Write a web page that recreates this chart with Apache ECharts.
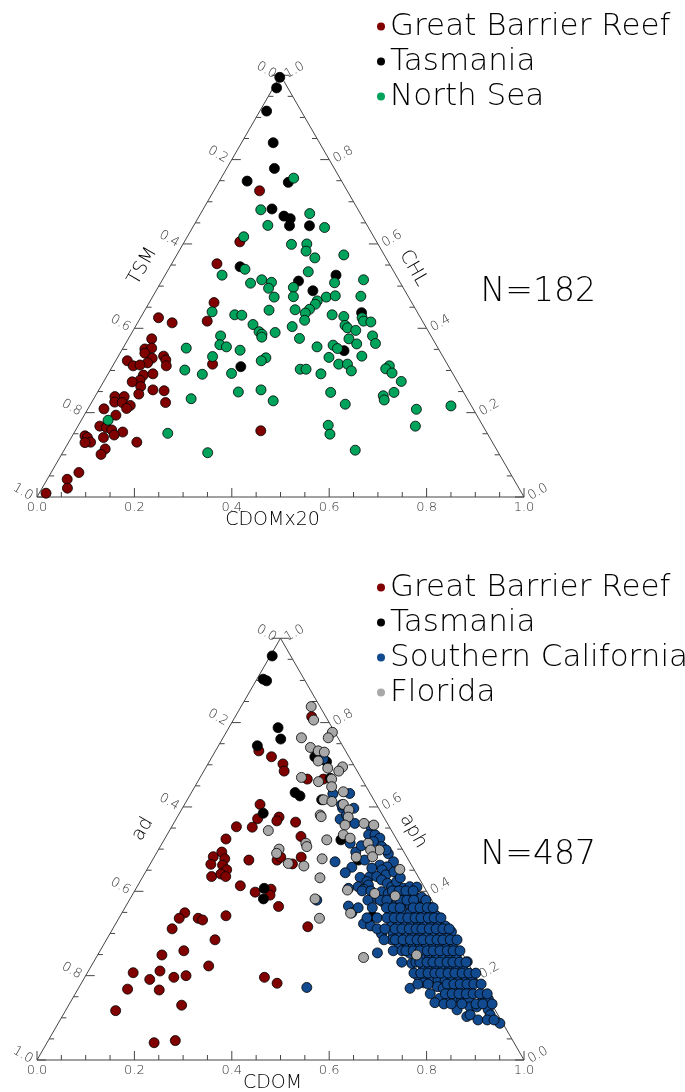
<!DOCTYPE html>
<html>
<head>
<meta charset="utf-8">
<title>Ternary plots</title>
<script src="https://cdn.jsdelivr.net/npm/echarts@6/dist/echarts.min.js"></script>
<style>
  html, body { margin: 0; padding: 0; background: #fff; }
  #chart { width: 685px; height: 1092px; }
</style>
</head>
<body>
<div id="chart"></div>
<script>
// every point is [CDOM, CHL]; the third fraction (TSM / ad) is 1 - CDOM - CHL

// upper plot (CDOMx20, CHL, TSM)
var topGBR = [
  [0.094,0.726],[0.114,0.605],[0.093,0.553],[0.133,0.461],[0.037,0.425],[0.071,0.413],[0.141,0.417],[0.048,0.375],
  [0.046,0.351],[0.059,0.353],[0.051,0.341],[0.072,0.329],[0.068,0.318],[0.093,0.334],[0.102,0.325],[0.110,0.311],
  [0.024,0.323],[0.042,0.311],[0.055,0.313],[0.203,0.315],[0.074,0.289],[0.092,0.292],[0.073,0.277],[0.059,0.273],
  [0.082,0.262],[0.111,0.254],[0.135,0.252],[0.087,0.244],[0.041,0.238],[0.060,0.238],[0.047,0.225],[0.063,0.224],
  [0.152,0.224],[0.083,0.217],[0.079,0.210],[0.033,0.209],[0.065,0.194],[0.045,0.168],[0.060,0.165],[0.074,0.159],
  [0.099,0.154],[0.085,0.147],[0.066,0.141],[0.026,0.145],[0.033,0.141],[0.045,0.130],[0.034,0.129],[0.140,0.130],
  [0.083,0.114],[0.081,0.101],[0.057,0.058],[0.041,0.042],[0.052,0.021],[0.014,0.009],[0.381,0.157]
];
var topTas = [
  [0.001,0.995],[0.007,0.970],[0.014,0.915],[0.065,0.840],[0.098,0.779],[0.057,0.749],[0.143,0.746],[0.141,0.683],
  [0.174,0.666],[0.190,0.660],[0.197,0.643],[0.238,0.643],[0.144,0.546],[0.351,0.526],[0.281,0.512],[0.322,0.489],
  [0.448,0.437],[0.457,0.347],[0.264,0.309]
];
var topNorthSea = [
  [0.149,0.756],[0.119,0.681],[0.224,0.672],[0.152,0.644],[0.271,0.639],[0.116,0.617],[0.223,0.599],[0.254,0.600],
  [0.261,0.583],[0.287,0.567],[0.343,0.574],[0.157,0.540],[0.290,0.534],[0.357,0.508],[0.413,0.515],[0.204,0.515],
  [0.227,0.509],[0.228,0.495],[0.185,0.507],[0.278,0.497],[0.250,0.474],[0.289,0.475],[0.357,0.474],[0.374,0.477],
  [0.427,0.476],[0.343,0.465],[0.343,0.457],[0.337,0.445],[0.333,0.436],[0.340,0.419],[0.308,0.444],[0.255,0.443],
  [0.190,0.432],[0.205,0.431],[0.390,0.432],[0.455,0.425],[0.462,0.417],[0.478,0.415],[0.416,0.428],[0.239,0.409],
  [0.322,0.404],[0.429,0.407],[0.437,0.401],[0.457,0.395],[0.260,0.392],[0.269,0.386],[0.272,0.379],[0.294,0.390],
  [0.498,0.382],[0.351,0.376],[0.453,0.375],[0.513,0.364],[0.475,0.363],[0.397,0.356],[0.428,0.360],[0.441,0.352],
  [0.243,0.348],[0.500,0.334],[0.434,0.331],[0.305,0.330],[0.299,0.323],[0.462,0.315],[0.480,0.315],[0.496,0.299],
  [0.568,0.311],[0.564,0.304],[0.582,0.294],[0.389,0.303],[0.401,0.303],[0.253,0.293],[0.437,0.292],[0.611,0.274],
  [0.289,0.249],[0.333,0.254],[0.479,0.248],[0.609,0.248],[0.591,0.240],[0.598,0.230],[0.371,0.228],[0.523,0.220],
  [0.742,0.216],[0.675,0.208],[0.693,0.168],[0.513,0.170],[0.527,0.149],[0.598,0.111],[0.117,0.526],[0.140,0.439],
  [0.186,0.382],[0.195,0.361],[0.211,0.356],[0.130,0.353],[0.194,0.333],[0.153,0.301],[0.194,0.291],[0.200,0.233],
  [0.055,0.182],[0.193,0.151],[0.298,0.105]
];

// lower plot (CDOM, aph, ad)
var botGBR = [
  [0.157,0.814],[0.089,0.733],[0.122,0.719],[0.154,0.702],[0.165,0.685],[0.222,0.666],[0.255,0.666],[0.155,0.606],
  [0.167,0.572],[0.209,0.576],[0.209,0.567],[0.133,0.553],[0.166,0.552],[0.249,0.564],[0.126,0.524],[0.277,0.530],
  [0.133,0.493],[0.121,0.482],[0.147,0.477],[0.125,0.464],[0.150,0.462],[0.164,0.451],[0.141,0.435],[0.157,0.441],
  [0.170,0.435],[0.198,0.474],[0.256,0.474],[0.260,0.481],[0.302,0.481],[0.292,0.465],[0.211,0.413],[0.249,0.398],
  [0.278,0.405],[0.283,0.391],[0.314,0.364],[0.129,0.349],[0.124,0.336],[0.163,0.336],[0.174,0.332],[0.217,0.342],
  [0.122,0.311],[0.223,0.285],[0.132,0.249],[0.172,0.259],[0.241,0.223],[0.094,0.207],[0.147,0.211],[0.136,0.191],
  [0.183,0.196],[0.206,0.200],[0.369,0.196],[0.402,0.182],[0.102,0.168],[0.168,0.166],[0.103,0.117],[0.232,0.130],
  [0.220,0.041],[0.261,0.046],[0.398,0.316]
];
var botTas = [
  [0.004,0.958],[0.013,0.903],[0.022,0.899],[0.101,0.788],[0.120,0.761],[0.080,0.745],[0.211,0.719],[0.241,0.707],
  [0.213,0.634],[0.227,0.626],[0.268,0.668],[0.276,0.617],[0.172,0.585],[0.263,0.407],[0.274,0.382],[0.363,0.522],
  [0.423,0.474],[0.518,0.341]
];
var botSoCal = [
  [0.292,0.631],[0.326,0.632],[0.329,0.597],[0.337,0.571],[0.345,0.581],[0.372,0.561],[0.409,0.553],[0.414,0.534],
  [0.427,0.534],[0.441,0.526],[0.432,0.518],[0.455,0.506],[0.386,0.514],[0.477,0.489],[0.497,0.470],[0.377,0.470],
  [0.418,0.457],[0.473,0.462],[0.490,0.458],[0.483,0.451],[0.497,0.439],[0.447,0.433],[0.466,0.435],[0.466,0.423],
  [0.480,0.435],[0.454,0.411],[0.473,0.415],[0.468,0.405],[0.494,0.427],[0.510,0.419],[0.523,0.411],[0.527,0.423],
  [0.549,0.407],[0.560,0.411],[0.575,0.410],[0.508,0.399],[0.524,0.395],[0.540,0.391],[0.553,0.391],[0.568,0.389],
  [0.583,0.387],[0.597,0.386],[0.436,0.407],[0.506,0.383],[0.523,0.375],[0.539,0.372],[0.553,0.372],[0.566,0.372],
  [0.582,0.368],[0.597,0.365],[0.611,0.365],[0.626,0.362],[0.457,0.365],[0.472,0.349],[0.549,0.352],[0.563,0.352],
  [0.578,0.349],[0.592,0.348],[0.606,0.348],[0.621,0.344],[0.635,0.344],[0.650,0.341],[0.564,0.328],[0.579,0.326],
  [0.592,0.328],[0.607,0.324],[0.620,0.326],[0.635,0.323],[0.649,0.323],[0.664,0.320],[0.679,0.318],[0.509,0.323],
  [0.526,0.318],[0.699,0.304],[0.581,0.300],[0.596,0.299],[0.611,0.296],[0.624,0.296],[0.639,0.294],[0.654,0.292],
  [0.668,0.292],[0.682,0.291],[0.697,0.289],[0.558,0.299],[0.586,0.285],[0.604,0.277],[0.621,0.277],[0.635,0.275],
  [0.650,0.273],[0.665,0.270],[0.679,0.269],[0.693,0.269],[0.709,0.265],[0.722,0.265],[0.639,0.253],[0.654,0.251],
  [0.669,0.249],[0.683,0.247],[0.697,0.247],[0.712,0.245],[0.727,0.241],[0.741,0.241],[0.572,0.254],[0.655,0.229],
  [0.683,0.221],[0.696,0.221],[0.710,0.221],[0.724,0.220],[0.739,0.217],[0.754,0.215],[0.769,0.213],[0.767,0.233],
  [0.683,0.199],[0.698,0.198],[0.714,0.194],[0.728,0.191],[0.743,0.190],[0.757,0.190],[0.772,0.186],[0.786,0.186],
  [0.797,0.191],[0.702,0.183],[0.735,0.174],[0.681,0.170],[0.749,0.170],[0.764,0.168],[0.779,0.166],[0.792,0.166],
  [0.806,0.166],[0.754,0.146],[0.771,0.146],[0.785,0.146],[0.801,0.142],[0.814,0.144],[0.749,0.136],[0.803,0.119],
  [0.826,0.126],[0.840,0.126],[0.845,0.142],[0.855,0.144],[0.831,0.103],[0.836,0.107],[0.867,0.119],[0.877,0.107],
  [0.907,0.087],[0.468,0.172],[0.231,0.714],[0.323,0.605],[0.352,0.597],[0.385,0.379],
  [0.467,0.401],[0.485,0.401],[0.529,0.401],[0.543,0.401],[0.557,0.401],[0.572,0.401],
  [0.490,0.379],[0.515,0.379],[0.529,0.379],[0.556,0.379],[0.570,0.379],[0.584,0.379],[0.609,0.379],
  [0.479,0.361],[0.508,0.361],[0.537,0.361],[0.551,0.361],[0.565,0.361],[0.592,0.361],[0.606,0.361],[0.621,0.361],[0.633,0.361],
  [0.509,0.337],[0.530,0.337],[0.550,0.337],[0.565,0.337],[0.579,0.337],[0.593,0.337],[0.608,0.337],[0.620,0.337],[0.635,0.337],[0.647,0.337],[0.661,0.337],
  [0.543,0.311],[0.559,0.311],[0.580,0.311],[0.594,0.311],[0.609,0.311],[0.623,0.311],[0.635,0.311],[0.650,0.311],[0.664,0.311],[0.678,0.311],[0.691,0.311],
  [0.570,0.285],[0.593,0.285],[0.609,0.285],[0.624,0.285],[0.638,0.285],[0.650,0.285],[0.665,0.285],[0.679,0.285],[0.691,0.285],[0.706,0.285],[0.720,0.285],
  [0.602,0.259],[0.620,0.259],[0.628,0.259],[0.643,0.259],[0.657,0.259],[0.672,0.259],[0.684,0.259],[0.698,0.259],[0.713,0.259],[0.725,0.259],[0.739,0.259],
  [0.633,0.232],[0.662,0.232],[0.670,0.232],[0.685,0.232],[0.697,0.232],[0.711,0.232],[0.726,0.232],[0.738,0.232],[0.752,0.232],[0.765,0.232],
  [0.671,0.206],[0.685,0.206],[0.700,0.206],[0.714,0.206],[0.726,0.206],[0.741,0.206],[0.755,0.206],[0.770,0.206],[0.784,0.206],[0.798,0.206],
  [0.692,0.180],[0.713,0.180],[0.752,0.180],[0.766,0.180],[0.779,0.180],[0.793,0.180],[0.807,0.180],[0.822,0.180],
  [0.729,0.157],[0.760,0.157],[0.774,0.157],[0.788,0.157],[0.803,0.157],[0.817,0.157],[0.831,0.157],[0.846,0.157],
  [0.769,0.133],[0.784,0.133],[0.806,0.133],[0.835,0.133],[0.849,0.133],[0.868,0.133],
  [0.858,0.095],[0.877,0.095],[0.891,0.095],
  [0.408,0.493],[0.436,0.474],[0.460,0.455],[0.510,0.446],[0.530,0.432],[0.411,0.444],[0.412,0.508],[0.468,0.498]
];
var botFlorida = [
  [0.144,0.838],[0.165,0.806],[0.218,0.777],[0.216,0.764],[0.161,0.764],[0.191,0.741],[0.211,0.733],[0.225,0.730],
  [0.223,0.709],[0.251,0.692],[0.280,0.695],[0.277,0.685],[0.208,0.670],[0.248,0.660],[0.272,0.666],[0.281,0.648],
  [0.280,0.617],[0.299,0.613],[0.311,0.636],[0.326,0.606],[0.344,0.593],[0.291,0.581],[0.203,0.544],[0.295,0.577],
  [0.334,0.522],[0.295,0.514],[0.301,0.506],[0.247,0.500],[0.247,0.490],[0.283,0.466],[0.318,0.460],[0.347,0.477],
  [0.365,0.432],[0.380,0.382],[0.412,0.336],[0.351,0.576],[0.354,0.557],[0.391,0.561],[0.413,0.557],[0.362,0.534],
  [0.380,0.526],[0.423,0.514],[0.454,0.498],[0.436,0.498],[0.448,0.482],[0.415,0.481],[0.519,0.452],[0.436,0.403],
  [0.496,0.395],[0.541,0.389],[0.470,0.348],[0.655,0.249],[0.549,0.243]
];

var tickLabels = ['0.0', '0.2', '0.4', '0.6', '0.8', '1.0'];
var topTitles = { left: 'TSM', right: 'CHL', bottom: 'CDOMx20', n: 'N=182' };
var botTitles = { left: 'ad', right: 'aph', bottom: 'CDOM', n: 'N=487' };

var S = Math.sqrt(3) / 2;
var lineColor = '#444';
var font = '"DejaVu Sans", sans-serif';

// ternary [cdom, chl] -> plane x, y
function toXY(p) {
    return [p[0] + p[1] / 2, p[1] * S];
}

function txt(x, y, s, size, rot, color) {
    return {
        type: 'text', x: x, y: y, rotation: rot || 0,
        style: {
            text: s, fill: color, font: '200 ' + size + 'px ' + font,
            align: 'center', verticalAlign: 'middle',
            textAlign: 'center', textVerticalAlign: 'middle'
        }
    };
}

function seg(x1, y1, x2, y2) {
    return { type: 'line', shape: { x1: x1, y1: y1, x2: x2, y2: y2 }, style: { stroke: lineColor, lineWidth: 1 } };
}

// triangle, ticks, tick labels and axis names
function frame(titles) {
    return function (params, api) {
        var P = function (c, h) { return api.coord([c + h / 2, h * S]); };
        var A = P(0, 0), B = P(1, 0), C = P(0, 1);
        var kids = [{
            type: 'polyline', shape: { points: [A, B, C, A] },
            style: { stroke: lineColor, lineWidth: 1, fill: null }
        }];
        for (var i = 0; i <= 20; i++) {
            var t = i / 20, major = i % 4 === 0, len = major ? 9 : 5;
            var b = P(t, 0), l = P(0, 1 - t), r = P(1 - t, t);
            kids.push(seg(b[0], b[1], b[0], b[1] - len));
            kids.push(seg(l[0], l[1], l[0] + len, l[1]));
            kids.push(seg(r[0], r[1], r[0] - len, r[1]));
            if (major) {
                var s = tickLabels[i / 4];
                kids.push(txt(b[0], b[1] + 11, s, 13, 0, '#333'));
                kids.push(txt(l[0] - 14, l[1] - 5, s, 13, -Math.PI / 6, '#333'));
                kids.push(txt(r[0] + 14, r[1] - 5, s, 13, Math.PI / 6, '#333'));
            }
        }
        var ml = P(0, 0.5), mr = P(0.5, 0.5), mb = P(0.5, 0);
        kids.push(txt(ml[0] - 16, ml[1] - 20, titles.left, 19, Math.PI / 3, '#000'));
        kids.push(txt(mr[0] + 11, mr[1] - 18, titles.right, 19, -Math.PI / 3, '#000'));
        kids.push(txt(mb[0] - 8, mb[1] + 23, titles.bottom, 19, 0, '#000'));
        kids.push(txt(mr[0] + 136, mr[1] + 6, titles.n, 33, 0, '#000'));
        return { type: 'group', children: kids };
    };
}

function pts(name, data, color, idx) {
    return {
        type: 'scatter', name: name, xAxisIndex: idx, yAxisIndex: idx,
        data: data.map(toXY), symbolSize: 10, clip: false, silent: true, z: 3,
        itemStyle: { color: color, borderColor: '#000', borderWidth: 0.8, opacity: 1 }
    };
}

var colors = {
    gbr: '#800000', tas: '#000000', ns: '#00a35c', socal: '#114a8f', fl: '#a8a8a8'
};

var chart = echarts.init(document.getElementById('chart'));
var legendText = { fontSize: 31, fontFamily: font, fontWeight: 200, color: '#000', lineHeight: 31 };

chart.setOption({
    animation: false,
    backgroundColor: '#fff',
    grid: [
        { left: 37, top: 75.25, width: 487, height: 421.75 },
        { left: 37, top: 638.25, width: 487, height: 421.75 }
    ],
    xAxis: [
        { gridIndex: 0, min: 0, max: 1, show: false },
        { gridIndex: 1, min: 0, max: 1, show: false }
    ],
    yAxis: [
        { gridIndex: 0, min: 0, max: S, show: false },
        { gridIndex: 1, min: 0, max: S, show: false }
    ],
    legend: [
        {
            data: ['Great Barrier Reef', 'Tasmania', 'North Sea'],
            left: 372, top: 6, orient: 'vertical', icon: 'circle',
            itemWidth: 8, itemHeight: 8, itemGap: 4, selectedMode: false,
            itemStyle: { borderWidth: 0 }, textStyle: legendText
        },
        {
            data: ['Great Barrier Reef', 'Tasmania', 'Southern California', 'Florida'],
            left: 372, top: 567, orient: 'vertical', icon: 'circle',
            itemWidth: 8, itemHeight: 8, itemGap: 4, selectedMode: false,
            itemStyle: { borderWidth: 0 }, textStyle: legendText
        }
    ],
    series: [
        { type: 'custom', xAxisIndex: 0, yAxisIndex: 0, data: [[0, 0]], renderItem: frame(topTitles), silent: true, clip: false, z: 1 },
        { type: 'custom', xAxisIndex: 1, yAxisIndex: 1, data: [[0, 0]], renderItem: frame(botTitles), silent: true, clip: false, z: 1 },
        pts('Great Barrier Reef', topGBR, colors.gbr, 0),
        pts('Tasmania', topTas, colors.tas, 0),
        pts('North Sea', topNorthSea, colors.ns, 0),
        pts('Great Barrier Reef', botGBR, colors.gbr, 1),
        pts('Tasmania', botTas, colors.tas, 1),
        pts('Southern California', botSoCal, colors.socal, 1),
        pts('Florida', botFlorida, colors.fl, 1)
    ]
});
</script>
</body>
</html>
